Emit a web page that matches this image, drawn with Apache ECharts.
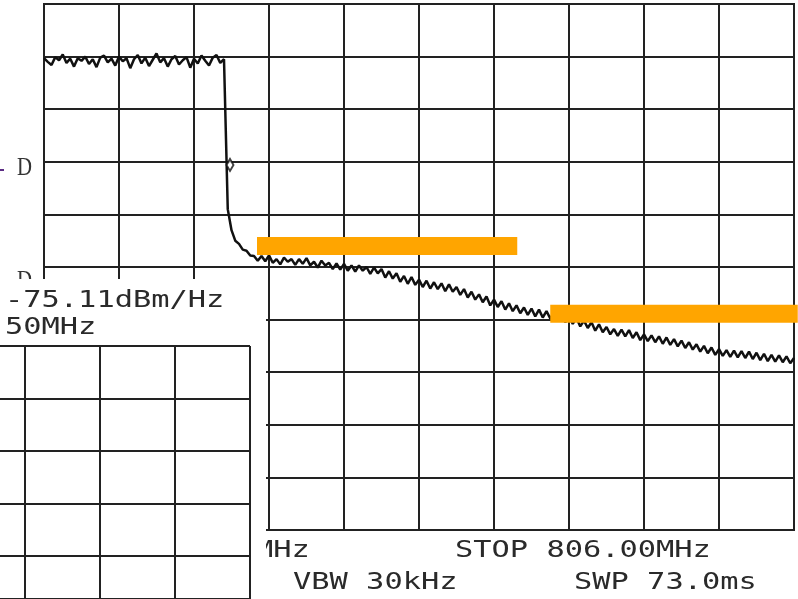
<!DOCTYPE html>
<html><head><meta charset="utf-8">
<script src="https://cdn.jsdelivr.net/npm/echarts@6/dist/echarts.min.js"></script>
<style>html,body{margin:0;padding:0;background:#fff}#c{width:798px;height:599px}</style>
</head><body><div id="c"></div>
<script>
// Trace level in screen divisions (0 = bottom graticule line, 10 = top), 201 sweep points over 10 horizontal divisions
const traceLevel = [
 8.97, 8.90, 8.84, 8.99, 8.93, 9.04, 8.88, 8.96, 8.81, 8.97,
 8.92, 9.00, 8.86, 8.95, 8.80, 8.98, 9.02, 8.89, 8.96, 8.83,
 9.00, 8.91, 8.97, 8.78, 8.95, 9.03, 8.87, 8.98, 8.82, 8.94,
 9.06, 8.89, 8.97, 8.81, 8.95, 9.01, 8.85, 8.93, 8.99, 8.79,
 8.96, 8.87, 9.02, 8.92, 8.83, 8.98, 9.03, 8.88, 8.95,
 6.10, 5.70, 5.50, 5.44, 5.33, 5.31, 5.22, 5.21, 5.12,
 5.21, 5.11, 5.22, 5.08, 5.15, 5.05, 5.18, 5.10, 5.15, 5.04,
 5.15, 5.06, 5.17, 5.03, 5.10, 4.99, 5.12, 5.03, 5.08, 4.96,
 5.07, 4.95, 5.06, 4.93, 5.03, 4.91, 5.03, 4.93, 5.00, 4.87,
 4.99, 4.88, 4.96, 4.80, 4.92, 4.78, 4.88, 4.72, 4.83, 4.68,
 4.81, 4.66, 4.76, 4.62, 4.74, 4.59, 4.71, 4.58, 4.69, 4.54,
 4.67, 4.53, 4.62, 4.47, 4.58, 4.42, 4.53, 4.38, 4.48, 4.33,
 4.44, 4.27, 4.38, 4.24, 4.35, 4.19, 4.31, 4.16, 4.27, 4.12,
 4.23, 4.09, 4.21, 4.06, 4.19, 4.04, 4.16, 4.02, 4.13, 3.99,
 4.10, 3.95, 4.06, 3.92, 4.03, 3.87, 3.98, 3.84, 3.95, 3.79,
 3.91, 3.76, 3.86, 3.72, 3.82, 3.69, 3.81, 3.68, 3.80, 3.65,
 3.76, 3.61, 3.72, 3.59, 3.70, 3.57, 3.68, 3.54, 3.66, 3.52,
 3.63, 3.49, 3.60, 3.46, 3.57, 3.43, 3.53, 3.39, 3.50, 3.36,
 3.47, 3.33, 3.44, 3.31, 3.42, 3.29, 3.41, 3.28, 3.40, 3.27,
 3.39, 3.25, 3.37, 3.23, 3.35, 3.21, 3.33, 3.20, 3.32, 3.19,
 3.30, 3.17, 3.27
];
const sweepDivisions = 10;
const markerPoint = [2.48, 6.94];
const limitLine1 = [[2.84, 5.40], [6.31, 5.40]];
const limitLine2 = [[6.75, 4.11], [10.05, 4.11]];
const markerReadout = '-75.11dBm/Hz';
const markerFreq = '50MHz';
const startTail = 'MHz';
const stopLabel = 'STOP 806.00MHz';
const vbwLabel = 'VBW 30kHz';
const swpLabel = 'SWP 73.0ms';

const traceData = traceLevel.map((v, i) => [i * sweepDivisions / (traceLevel.length - 1), v]);

const GRID = '#222';
const MONO = '23px "DejaVu Sans Mono"';
function txt(s, left, cy, z) {
  return { type: 'text', x: left, y: cy, scaleX: 1.32, z: z,
    style: { text: s, font: MONO, fill: '#2a2a2a', align: 'left', verticalAlign: 'middle' } };
}
const hidden = { axisLine: { show: false }, axisTick: { show: false }, axisLabel: { show: false } };
const split = { show: true, lineStyle: { color: GRID, width: 2 } };
// inset graticule: 52.5 px per division, visible part 253 px tall
const insetRows = 253 / 52.5;

const chart = echarts.init(document.getElementById('c'), null, { renderer: 'canvas' });
chart.setOption({
  animation: false,
  backgroundColor: '#fff',
  grid: [
    { left: 44, top: 4, width: 750, height: 526, show: true, borderColor: GRID, borderWidth: 2, backgroundColor: 'transparent' },
    { left: 0, top: 346, width: 250, height: 253, show: false },
    { left: 25, top: 346, width: 225, height: 253, show: false }
  ],
  xAxis: [
    { gridIndex: 0, type: 'value', min: 0, max: 10, interval: 1,
      axisLine: { show: true, lineStyle: { color: GRID, width: 2 } }, axisTick: { show: false }, axisLabel: { show: false },
      splitLine: split },
    Object.assign({ gridIndex: 1, type: 'value', min: 0, max: 1, interval: 1, z: 4, splitLine: { show: false } }, hidden),
    Object.assign({ gridIndex: 2, type: 'value', min: 0, max: 3, interval: 1, z: 4, splitLine: split }, hidden)
  ],
  yAxis: [
    { gridIndex: 0, type: 'value', min: 0, max: 10, interval: 1,
      axisLine: { show: true, lineStyle: { color: GRID, width: 2 } }, axisTick: { show: false }, axisLabel: { show: false },
      splitLine: split },
    Object.assign({ gridIndex: 1, type: 'value', min: 0, max: insetRows, interval: 1, inverse: true, z: 4, splitLine: split }, hidden),
    Object.assign({ gridIndex: 2, type: 'value', min: 0, max: insetRows, interval: 1, inverse: true, z: 4, splitLine: { show: false } }, hidden)
  ],
  series: [
    { type: 'line', xAxisIndex: 0, yAxisIndex: 0, data: traceData, showSymbol: false, symbol: 'none',
      lineStyle: { color: '#111', width: 2.5 }, z: 2 },
    { type: 'scatter', xAxisIndex: 0, yAxisIndex: 0, data: [markerPoint], symbol: 'diamond', symbolSize: [7, 12],
      itemStyle: { color: '#fff', borderColor: '#111', borderWidth: 2 }, z: 2 },
    { type: 'line', xAxisIndex: 0, yAxisIndex: 0, data: limitLine1, showSymbol: false, symbol: 'none', clip: false,
      lineStyle: { color: '#FFA500', width: 18, cap: 'butt' }, z: 3 },
    { type: 'line', xAxisIndex: 0, yAxisIndex: 0, data: limitLine2, showSymbol: false, symbol: 'none', clip: false,
      lineStyle: { color: '#FFA500', width: 18, cap: 'butt' }, z: 3 },
    { type: 'line', xAxisIndex: 1, yAxisIndex: 1, data: [], symbol: 'none' },
    { type: 'line', xAxisIndex: 2, yAxisIndex: 2, data: [], symbol: 'none' }
  ],
  graphic: [
    { type: 'rect', shape: { x: 0, y: 169, width: 4, height: 2 }, style: { fill: '#5b2c83' }, z: 5 },
    { type: 'text', x: 17, y: 168.5, scaleX: 0.8, z: 5,
      style: { text: 'D', font: '26px "Liberation Serif"', fill: '#333', align: 'left', verticalAlign: 'middle' } },
    { type: 'text', x: 17, y: 281, scaleX: 0.8, z: 1,
      style: { text: 'D', font: '26px "Liberation Serif"', fill: '#333', align: 'left', verticalAlign: 'middle' } },
    txt(startTail, 255, 551, 1),
    { type: 'rect', shape: { x: 0, y: 279, width: 266, height: 320 }, style: { fill: '#fff' }, z: 3 },
    txt(markerReadout, 5, 301.5, 5),
    txt(markerFreq, 5, 328.5, 5),
    txt(stopLabel, 455, 551, 5),
    txt(vbwLabel, 293, 583.5, 5),
    txt(swpLabel, 574, 583.5, 5)
  ]
});
</script>
</body></html>
